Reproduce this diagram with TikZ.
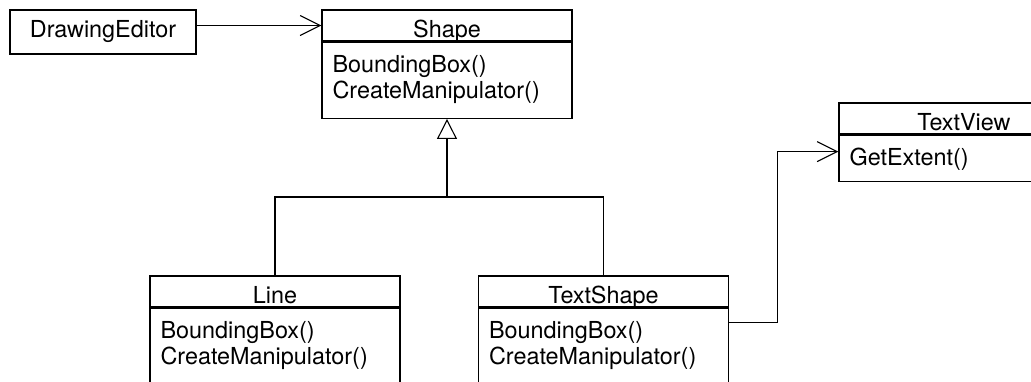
\documentclass[tikz,border=0pt]{standalone}
\usepackage{fontspec}
\setmainfont{TeX Gyre Heros}
\usepackage{tikz}
\usetikzlibrary{positioning,arrows.meta,calc}

\newcommand{\umlfont}{\fontsize{23.4}{26}\selectfont}

\begin{document}
\begin{tikzpicture}[x=1pt, y=-1pt,
    classname/.style={draw, line width=1.3pt, minimum width=250pt, minimum height=31pt,
      inner sep=0pt, text height=23pt, text depth=0pt, font=\umlfont},
    classbody/.style={draw, line width=1.3pt, minimum width=250pt, inner sep=0pt},
    ops/.style={anchor=north west, align=left, inner sep=0pt, font=\umlfont},
    assoc/.style={draw, line width=1.1pt, -{Straight Barb[length=20pt, width=20pt]}},
    inherit/.style={draw, line width=1.1pt, -{Triangle[open, length=20pt, width=20pt]}}]
  \useasboundingbox (0,0) rectangle (1031,381);
  \clip (0,0) rectangle (1031,381);

  \node[draw, line width=1.3pt, minimum width=186pt, minimum height=44pt, inner sep=0pt,
    font=\umlfont] (editor) at (103,32) {DrawingEditor};

  % Shape and its two subclasses
  \node[classname] (shape) at (447,25.5) {Shape};
  \node[classbody, minimum height=76pt, below=0pt of shape] (shapebody) {};
  \node[ops] (shapeops) at ($(shapebody.north west)+(11,14)$) {BoundingBox()\\CreateManipulator()};

  \node[classname] (line) at (275,291.5) {Line};
  \node[classbody, minimum height=76pt, below=0pt of line] (linebody) {};
  \node[ops] (lineops) at ($(linebody.north west)+(11,14)$) {BoundingBox()\\CreateManipulator()};

  \node[classname] (textshape) at (603.5,291.5) {TextShape};
  \node[classbody, minimum height=76pt, below=0pt of textshape] (textshapebody) {};
  \node[ops] (textshapeops) at ($(textshapebody.north west)+(11,14)$) {BoundingBox()\\CreateManipulator()};

  \node[classname] (textview) at (964,118.5) {TextView};
  \node[classbody, minimum height=46pt, below=0pt of textview] (textviewbody) {};
  \node[ops] (textviewops) at ($(textviewbody.north west)+(11,13)$) {GetExtent()};

  \draw[assoc] (editor.east |- shape.west) -- (shape.west);

  \coordinate (fork) at (447,197);
  \draw[inherit] (fork) -- (shapebody.south);
  \draw[line width=1.1pt] (line.north) |- (fork) -| (textshape.north);

  \coordinate (tsout) at ($(textshapebody.north east)+(0,15)$);
  \coordinate (tvin) at ($(textviewbody.north west)+(0,17)$);
  \draw[assoc] (tsout) -- ++(48,0) |- (tvin);
\end{tikzpicture}
\end{document}
